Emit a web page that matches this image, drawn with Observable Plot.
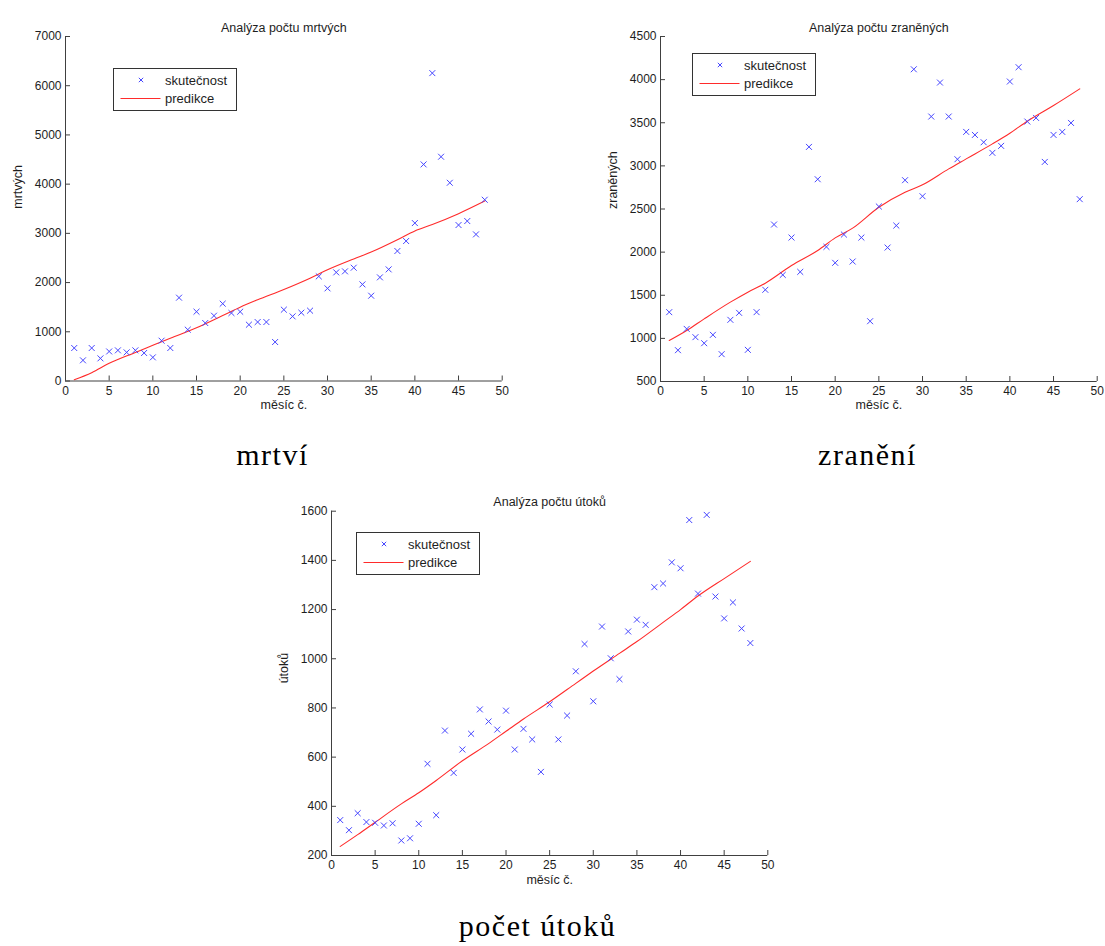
<!DOCTYPE html>
<html>
<head>
<meta charset="utf-8">
<script src="https://cdn.jsdelivr.net/npm/d3@7"></script>
<script src="https://cdn.jsdelivr.net/npm/@observablehq/plot@0.6"></script>
<style>
  html, body { margin: 0; padding: 0; background: #fff; }
  body { position: relative; width: 1105px; height: 946px; overflow: hidden; }
  .panel { position: absolute; }
  .overlay { position: absolute; left: 0; top: 0; }
</style>
</head>
<body>
<script>
// ---- data ----
const months = [1,2,3,4,5,6,7,8,9,10,11,12,13,14,15,16,17,18,19,20,21,22,23,24,25,26,27,28,29,30,31,32,33,34,35,36,37,38,39,40,41,42,43,44,45,46,47,48];
const xTicks = [0,5,10,15,20,25,30,35,40,45,50];

const deaths = [670,420,670,460,600,623,582,623,569,480,819,670,1693,1043,1408,1178,1327,1571,1381,1408,1144,1198,1198,792,1449,1313,1388,1429,2126,1882,2207,2228,2302,1963,1733,2106,2268,2641,2844,3209,4401,6256,4557,4028,3169,3250,2979,3683];
const injured = [1304,863,1110,1014,944,1041,817,1215,1296,867,1304,1563,2320,1736,2169,1771,3220,2845,2061,1876,2204,1891,2169,1199,2529,2053,2308,2834,4120,2648,3572,3966,3572,3077,3394,3359,3274,3151,3232,3978,4144,3514,3556,3046,3359,3394,3498,2614];
const attacks = [344,303,372,336,333,322,331,261,270,329,573,364,708,536,631,695,794,745,712,789,631,715,672,540,814,672,769,949,1060,827,1131,1002,917,1111,1159,1138,1291,1306,1392,1368,1564,1265,1585,1253,1164,1229,1123,1064];

const predMonths = [1,3,5,8,10,12,15,18,20,22,25,28,30,33,35,38,40,42,45,48];
const predDeaths = [27,170,360,580,725,870,1080,1330,1500,1650,1860,2090,2260,2480,2620,2870,3050,3180,3400,3656];
const predInjured = [975,1091,1226,1420,1536,1640,1845,2019,2165,2278,2521,2695,2780,2965,3081,3255,3379,3518,3700,3893];
const predAttacks = [237,285,335,410,455,505,585,655,705,755,825,900,950,1022,1070,1148,1200,1255,1326,1396];

const yTicksDeaths = [0,1000,2000,3000,4000,5000,6000,7000];
const yTicksInjured = [500,1000,1500,2000,2500,3000,3500,4000,4500];
const yTicksAttacks = [200,400,600,800,1000,1200,1400,1600];

const titles = ["Analýza počtu mrtvých", "Analýza počtu zraněných", "Analýza počtu útoků"];
const yLabels = ["mrtvých", "zraněných", "útoků"];
const xLabel = "měsíc č.";
const legendLabels = ["skutečnost", "predikce"];
const captions = ["mrtví", "zranění", "počet útoků"];

// ---- styles ----
const AXIS = "#404040";
const TEXT = "#1e1e1e";
const BLUE = "#4646ff";
const RED = "#ff2b2b";
const SANS = "'Liberation Sans', Arial, sans-serif";

function panel(cfg) {
  const {left, top, width, height, ml, mr, mt, mb, yTicks, actual, pred, title, yLabel} = cfg;
  const fw = width - ml - mr, fh = height - mt - mb;
  const yDomain = [yTicks[0], yTicks[yTicks.length - 1]];
  const pts = months.map((m, i) => ({m, v: actual[i]}));
  const line = predMonths.map((m, i) => ({m, v: pred[i]}));
  const chart = Plot.plot({
    width, height,
    marginLeft: ml, marginRight: mr, marginTop: mt, marginBottom: mb,
    style: {fontFamily: SANS, fontSize: "12px", color: TEXT, background: "transparent", overflow: "visible"},
    x: {domain: [0, 50], ticks: xTicks, tickSize: 0, tickPadding: 5, label: null, tickFormat: d => String(d)},
    y: {domain: yDomain, ticks: yTicks, tickSize: 0, tickPadding: 4, label: null, tickFormat: d => String(d)},
    marks: [
      Plot.ruleX([0], {stroke: AXIS, strokeWidth: 1}),
      Plot.ruleY([yDomain[0]], {stroke: AXIS, strokeWidth: 1}),
      Plot.tickX(xTicks, {x: d => d, insetTop: fh - 5, stroke: AXIS}),
      Plot.tickY(yTicks, {y: d => d, insetRight: fw - 5, stroke: AXIS}),
      Plot.line(line, {x: "m", y: "v", stroke: RED, strokeWidth: 1.1, curve: "monotone-x"}),
      Plot.dot(pts, {x: "m", y: "v", symbol: "times", r: 2.8, stroke: BLUE, strokeWidth: 1}),
      Plot.text([title], {text: d => d, frameAnchor: "top", dy: cfg.titleDy, fontSize: 12.5, fill: TEXT}),
      Plot.text([xLabel], {text: d => d, frameAnchor: "bottom", dy: cfg.xLabelDy, fontSize: 12.5, fill: TEXT}),
      Plot.text([yLabel], {text: d => d, frameAnchor: "left", dx: -48, rotate: -90, fontSize: 12.5, fill: TEXT})
    ]
  });
  const div = document.createElement("div");
  div.className = "panel";
  div.style.left = left + "px";
  div.style.top = top + "px";
  div.appendChild(chart);
  document.body.appendChild(div);
}

panel({left: 0, top: 0, width: 530, height: 420, ml: 65, mr: 28.3, mt: 36, mb: 39.5,
  yTicks: yTicksDeaths, actual: deaths, pred: predDeaths, title: titles[0], yLabel: yLabels[0], titleDy: -13.5, xLabelDy: 27.5});
panel({left: 540, top: 0, width: 565, height: 420, ml: 120, mr: 8.3, mt: 36, mb: 39,
  yTicks: yTicksInjured, actual: injured, pred: predInjured, title: titles[1], yLabel: yLabels[1], titleDy: -13.5, xLabelDy: 27.5});
panel({left: 220, top: 470, width: 570, height: 420, ml: 111, mr: 22.7, mt: 40.7, mb: 35,
  yTicks: yTicksAttacks, actual: attacks, pred: predAttacks, title: titles[2], yLabel: yLabels[2], titleDy: -14, xLabelDy: 28});

// ---- legends & captions overlay ----
const svg = d3.select("body").append("svg")
  .attr("class", "overlay").attr("width", 1105).attr("height", 946);

const legendBoxes = [[113, 68], [692, 53], [356, 532]];
legendBoxes.forEach(([lx, ly]) => {
  const g = svg.append("g").attr("transform", `translate(${lx},${ly})`);
  g.append("rect").attr("x", 0.5).attr("y", 0.5).attr("width", 123).attr("height", 42)
    .attr("fill", "#fff").attr("stroke", "#333").attr("stroke-width", 1);
  const s = 2.2;
  g.append("path").attr("d", `M${28 - s},${12 - s}L${28 + s},${12 + s}M${28 - s},${12 + s}L${28 + s},${12 - s}`)
    .attr("stroke", BLUE).attr("stroke-width", 1).attr("fill", "none");
  g.append("line").attr("x1", 7.5).attr("x2", 47.5).attr("y1", 30.5).attr("y2", 30.5)
    .attr("stroke", RED).attr("stroke-width", 1.2);
  g.append("text").attr("x", 52).attr("y", 12).attr("dy", "0.35em").text(legendLabels[0])
    .attr("font-family", SANS).attr("font-size", 13).attr("fill", TEXT);
  g.append("text").attr("x", 52).attr("y", 30.5).attr("dy", "0.35em").text(legendLabels[1])
    .attr("font-family", SANS).attr("font-size", 13).attr("fill", TEXT);
});

const captionPos = [[272.5, 465], [867.5, 465], [537.5, 936]];
captions.forEach((c, i) => {
  svg.append("text").attr("x", captionPos[i][0]).attr("y", captionPos[i][1])
    .attr("text-anchor", "middle").attr("font-family", "'Liberation Serif', 'Times New Roman', serif")
    .attr("font-size", 30).attr("letter-spacing", 1.5).attr("fill", "#000").text(c);
});
</script>
</body>
</html>
